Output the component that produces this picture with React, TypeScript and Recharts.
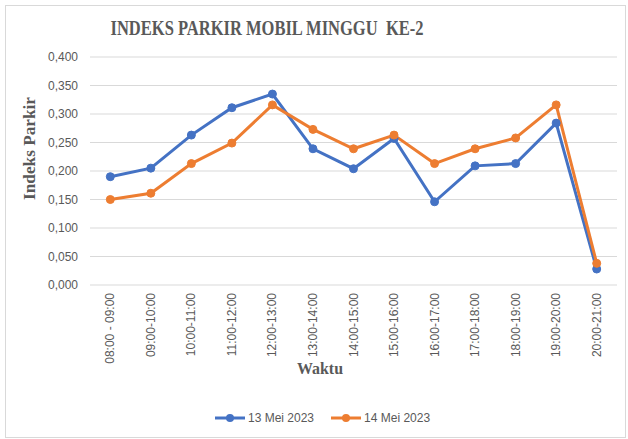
import React from 'react';
import { LineChart, Line, XAxis, YAxis, CartesianGrid, Label } from 'recharts';

const categories = ['08:00 - 09:00', '09:00-10:00', '10:00-11:00', '11:00-12:00', '12:00-13:00', '13:00-14:00', '14:00-15:00', '15:00-16:00', '16:00-17:00', '17:00-18:00', '18:00-19:00', '19:00-20:00', '20:00-21:00'];
const mei13 = [0.190, 0.205, 0.263, 0.311, 0.335, 0.239, 0.204, 0.257, 0.146, 0.209, 0.213, 0.284, 0.028];
const mei14 = [0.150, 0.161, 0.213, 0.249, 0.316, 0.273, 0.239, 0.263, 0.213, 0.239, 0.258, 0.316, 0.038];
const seriesNames = ['13 Mei 2023', '14 Mei 2023'];
const yTicks = [0, 0.05, 0.1, 0.15, 0.2, 0.25, 0.3, 0.35, 0.4];
const title = 'INDEKS PARKIR MOBIL MINGGU\u00A0 KE-2';
const yTitle = 'Indeks Parkir';
const xTitle = 'Waktu';

const BLUE = '#4472C4';
const ORANGE = '#ED7D31';
const TEXT = '#595959';

const data = categories.map((c, i) => ({ cat: c, a: mei13[i], b: mei14[i] }));

const XTick = (props: any) => {
  const { x, payload } = props;
  return (
    <text x={x + 4} y={293} transform={`rotate(-90, ${x + 4}, 293)`} textAnchor="end" fontSize={12} fill={TEXT} fontFamily="'Liberation Sans', Arial, sans-serif">
      {payload.value}
    </text>
  );
};

const LegendItem = ({ color, name }: { color: string; name: string }) => (
  <div style={{ display: 'flex', alignItems: 'center', marginRight: 17 }}>
    <svg width={32} height={10}>
      <line x1={0} y1={5} x2={30} y2={5} stroke={color} strokeWidth={3} />
      <circle cx={15} cy={5} r={4} fill={color} />
    </svg>
    <span style={{ fontSize: 12, color: TEXT, fontFamily: "'Liberation Sans', Arial, sans-serif", marginLeft: 1 }}>{name}</span>
  </div>
);

export default function App() {
  return (
    <div style={{ position: 'fixed', left: 0, top: 0, width: 628, height: 439, background: '#fff' }}>
      <div style={{ position: 'absolute', left: 5, top: 5, width: 619, height: 431, border: '1px solid #d9d9d9' }} />
      <div style={{ position: 'absolute', left: 0, top: 0 }}>
        <LineChart width={628} height={439} data={data} margin={{ top: 57, right: 11, bottom: 0, left: 0 }}>
          <text x={267} y={35} textAnchor="middle" fontSize={20} fontWeight="bold" fill={TEXT} fontFamily="'Liberation Serif', 'Times New Roman', serif" textLength={313} lengthAdjust="spacingAndGlyphs">
            {title}
          </text>
          <CartesianGrid vertical={false} stroke="#d9d9d9" strokeWidth={1} />
          <XAxis dataKey="cat" interval={0} axisLine={false} tickLine={false} height={154} padding={{ left: 20.3, right: 20.3 }} tick={<XTick />}>
            <Label content={() => (
              <text x={320} y={374} textAnchor="middle" fontSize={17} fontWeight="bold" fill={TEXT} fontFamily="'Liberation Serif', 'Times New Roman', serif" textLength={46} lengthAdjust="spacingAndGlyphs">{xTitle}</text>
            )} />
          </XAxis>
          <YAxis width={90} domain={[0, 0.4]} ticks={yTicks} axisLine={false} tickLine={false} tickSize={10} tickMargin={2}
            tickFormatter={(v: number) => v.toFixed(3).replace('.', ',')}
            tick={{ fontSize: 12, fill: TEXT, fontFamily: "'Liberation Sans', Arial, sans-serif" }}>
            <Label content={() => (
              <text x={35} y={148.5} transform="rotate(-90, 35, 148.5)" textAnchor="middle" fontSize={17} fontWeight="bold" fill={TEXT} fontFamily="'Liberation Serif', 'Times New Roman', serif" textLength={103} lengthAdjust="spacingAndGlyphs">{yTitle}</text>
            )} />
          </YAxis>
          <Line dataKey="a" name={seriesNames[0]} stroke={BLUE} strokeWidth={3} dot={{ r: 4, fill: BLUE, stroke: BLUE, strokeWidth: 1 }} isAnimationActive={false} />
          <Line dataKey="b" name={seriesNames[1]} stroke={ORANGE} strokeWidth={3} dot={{ r: 4, fill: ORANGE, stroke: ORANGE, strokeWidth: 1 }} isAnimationActive={false} />
        </LineChart>
      </div>
      <div style={{ position: 'absolute', left: 215, top: 411, display: 'flex' }}>
        <LegendItem color={BLUE} name={seriesNames[0]} />
        <LegendItem color={ORANGE} name={seriesNames[1]} />
      </div>
    </div>
  );
}
